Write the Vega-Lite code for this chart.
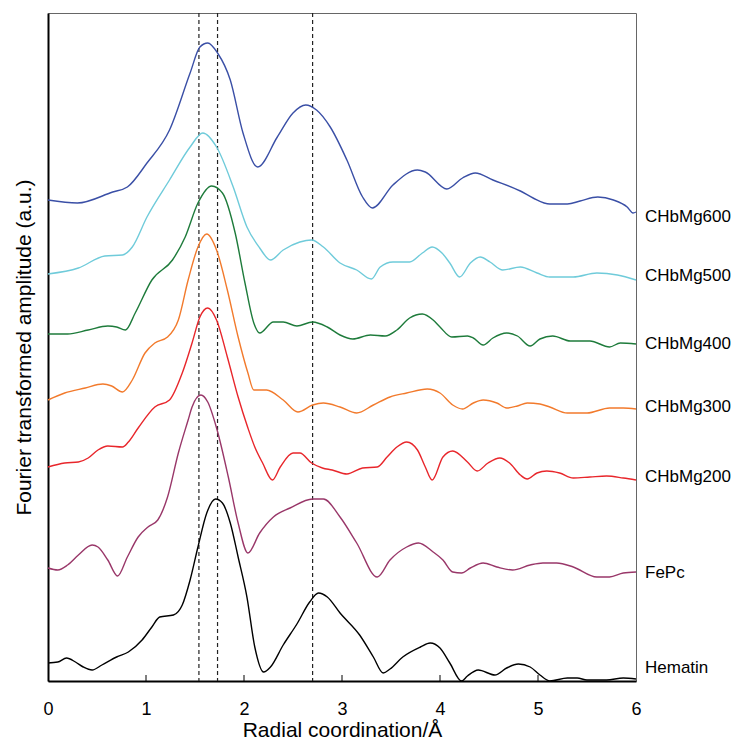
{
  "$schema": "https://vega.github.io/schema/vega-lite/v6.json",
  "width": 588,
  "height": 668,
  "autosize": {"type": "none"},
  "padding": {"left": 48, "top": 13, "right": 98, "bottom": 59},
  "background": "white",
  "config": {
    "view": {"stroke": "#666666", "strokeWidth": 1},
    "font": "Liberation Sans",
    "axis": {"labelFont": "Liberation Sans", "titleFont": "Liberation Sans", "grid": false}
  },
  "datasets": {
    "curves": [
      {"s":"CHbMg600","x":0.00,"y":481},{"s":"CHbMg600","x":0.30,"y":478},{"s":"CHbMg600","x":0.66,"y":489},{"s":"CHbMg600","x":0.81,"y":494},{"s":"CHbMg600","x":1.01,"y":518},{"s":"CHbMg600","x":1.24,"y":551},{"s":"CHbMg600","x":1.45,"y":608},{"s":"CHbMg600","x":1.55,"y":634},{"s":"CHbMg600","x":1.63,"y":638},{"s":"CHbMg600","x":1.73,"y":628},{"s":"CHbMg600","x":1.86,"y":601},{"s":"CHbMg600","x":1.99,"y":548},{"s":"CHbMg600","x":2.14,"y":514},{"s":"CHbMg600","x":2.34,"y":544},{"s":"CHbMg600","x":2.50,"y":568},{"s":"CHbMg600","x":2.63,"y":576},{"s":"CHbMg600","x":2.74,"y":571},{"s":"CHbMg600","x":2.88,"y":554},{"s":"CHbMg600","x":3.05,"y":521},{"s":"CHbMg600","x":3.21,"y":484},{"s":"CHbMg600","x":3.31,"y":473},{"s":"CHbMg600","x":3.52,"y":496},{"s":"CHbMg600","x":3.77,"y":511},{"s":"CHbMg600","x":3.85,"y":509},{"s":"CHbMg600","x":4.07,"y":492},{"s":"CHbMg600","x":4.23,"y":503},{"s":"CHbMg600","x":4.36,"y":508},{"s":"CHbMg600","x":4.54,"y":501},{"s":"CHbMg600","x":4.82,"y":490},{"s":"CHbMg600","x":4.95,"y":483},{"s":"CHbMg600","x":5.12,"y":477},{"s":"CHbMg600","x":5.30,"y":477},{"s":"CHbMg600","x":5.43,"y":480},{"s":"CHbMg600","x":5.61,"y":484},{"s":"CHbMg600","x":5.77,"y":481},{"s":"CHbMg600","x":5.91,"y":474},{"s":"CHbMg600","x":5.97,"y":468},{"s":"CHbMg600","x":6.00,"y":469},
      {"s":"CHbMg500","x":0.00,"y":407},{"s":"CHbMg500","x":0.31,"y":413},{"s":"CHbMg500","x":0.58,"y":425},{"s":"CHbMg500","x":0.76,"y":426},{"s":"CHbMg500","x":0.86,"y":434},{"s":"CHbMg500","x":1.01,"y":464},{"s":"CHbMg500","x":1.24,"y":501},{"s":"CHbMg500","x":1.45,"y":534},{"s":"CHbMg500","x":1.58,"y":548},{"s":"CHbMg500","x":1.72,"y":534},{"s":"CHbMg500","x":1.89,"y":494},{"s":"CHbMg500","x":2.03,"y":454},{"s":"CHbMg500","x":2.16,"y":433},{"s":"CHbMg500","x":2.27,"y":421},{"s":"CHbMg500","x":2.40,"y":431},{"s":"CHbMg500","x":2.57,"y":439},{"s":"CHbMg500","x":2.69,"y":441},{"s":"CHbMg500","x":2.81,"y":434},{"s":"CHbMg500","x":2.98,"y":418},{"s":"CHbMg500","x":3.15,"y":411},{"s":"CHbMg500","x":3.30,"y":402},{"s":"CHbMg500","x":3.39,"y":414},{"s":"CHbMg500","x":3.52,"y":419},{"s":"CHbMg500","x":3.69,"y":419},{"s":"CHbMg500","x":3.82,"y":428},{"s":"CHbMg500","x":3.92,"y":434},{"s":"CHbMg500","x":4.02,"y":428},{"s":"CHbMg500","x":4.10,"y":418},{"s":"CHbMg500","x":4.20,"y":404},{"s":"CHbMg500","x":4.31,"y":418},{"s":"CHbMg500","x":4.41,"y":424},{"s":"CHbMg500","x":4.51,"y":419},{"s":"CHbMg500","x":4.64,"y":411},{"s":"CHbMg500","x":4.82,"y":414},{"s":"CHbMg500","x":4.99,"y":408},{"s":"CHbMg500","x":5.12,"y":404},{"s":"CHbMg500","x":5.36,"y":404},{"s":"CHbMg500","x":5.60,"y":408},{"s":"CHbMg500","x":5.81,"y":406},{"s":"CHbMg500","x":6.00,"y":401},
      {"s":"CHbMg400","x":0.00,"y":347},{"s":"CHbMg400","x":0.20,"y":347},{"s":"CHbMg400","x":0.41,"y":351},{"s":"CHbMg400","x":0.61,"y":355},{"s":"CHbMg400","x":0.70,"y":354},{"s":"CHbMg400","x":0.79,"y":351},{"s":"CHbMg400","x":0.89,"y":368},{"s":"CHbMg400","x":1.06,"y":401},{"s":"CHbMg400","x":1.27,"y":421},{"s":"CHbMg400","x":1.40,"y":444},{"s":"CHbMg400","x":1.53,"y":478},{"s":"CHbMg400","x":1.67,"y":495},{"s":"CHbMg400","x":1.78,"y":488},{"s":"CHbMg400","x":1.91,"y":448},{"s":"CHbMg400","x":2.01,"y":398},{"s":"CHbMg400","x":2.10,"y":358},{"s":"CHbMg400","x":2.16,"y":348},{"s":"CHbMg400","x":2.30,"y":359},{"s":"CHbMg400","x":2.40,"y":359},{"s":"CHbMg400","x":2.54,"y":355},{"s":"CHbMg400","x":2.70,"y":359},{"s":"CHbMg400","x":2.85,"y":354},{"s":"CHbMg400","x":2.98,"y":346},{"s":"CHbMg400","x":3.11,"y":342},{"s":"CHbMg400","x":3.29,"y":346},{"s":"CHbMg400","x":3.44,"y":345},{"s":"CHbMg400","x":3.56,"y":351},{"s":"CHbMg400","x":3.69,"y":363},{"s":"CHbMg400","x":3.82,"y":367},{"s":"CHbMg400","x":3.93,"y":361},{"s":"CHbMg400","x":4.00,"y":354},{"s":"CHbMg400","x":4.12,"y":344},{"s":"CHbMg400","x":4.28,"y":345},{"s":"CHbMg400","x":4.34,"y":343},{"s":"CHbMg400","x":4.44,"y":336},{"s":"CHbMg400","x":4.54,"y":343},{"s":"CHbMg400","x":4.68,"y":348},{"s":"CHbMg400","x":4.79,"y":345},{"s":"CHbMg400","x":4.92,"y":335},{"s":"CHbMg400","x":5.02,"y":342},{"s":"CHbMg400","x":5.15,"y":345},{"s":"CHbMg400","x":5.33,"y":340},{"s":"CHbMg400","x":5.53,"y":340},{"s":"CHbMg400","x":5.73,"y":334},{"s":"CHbMg400","x":5.84,"y":338},{"s":"CHbMg400","x":6.00,"y":337},
      {"s":"CHbMg300","x":0.00,"y":281},{"s":"CHbMg300","x":0.17,"y":288},{"s":"CHbMg300","x":0.38,"y":293},{"s":"CHbMg300","x":0.56,"y":297},{"s":"CHbMg300","x":0.65,"y":295},{"s":"CHbMg300","x":0.76,"y":289},{"s":"CHbMg300","x":0.86,"y":301},{"s":"CHbMg300","x":0.99,"y":328},{"s":"CHbMg300","x":1.09,"y":338},{"s":"CHbMg300","x":1.22,"y":344},{"s":"CHbMg300","x":1.33,"y":361},{"s":"CHbMg300","x":1.43,"y":401},{"s":"CHbMg300","x":1.53,"y":434},{"s":"CHbMg300","x":1.62,"y":447},{"s":"CHbMg300","x":1.72,"y":431},{"s":"CHbMg300","x":1.83,"y":391},{"s":"CHbMg300","x":1.94,"y":344},{"s":"CHbMg300","x":2.04,"y":308},{"s":"CHbMg300","x":2.10,"y":291},{"s":"CHbMg300","x":2.23,"y":291},{"s":"CHbMg300","x":2.40,"y":281},{"s":"CHbMg300","x":2.55,"y":269},{"s":"CHbMg300","x":2.70,"y":276},{"s":"CHbMg300","x":2.81,"y":278},{"s":"CHbMg300","x":2.98,"y":274},{"s":"CHbMg300","x":3.15,"y":268},{"s":"CHbMg300","x":3.32,"y":276},{"s":"CHbMg300","x":3.49,"y":284},{"s":"CHbMg300","x":3.66,"y":288},{"s":"CHbMg300","x":3.87,"y":292},{"s":"CHbMg300","x":4.00,"y":288},{"s":"CHbMg300","x":4.13,"y":276},{"s":"CHbMg300","x":4.23,"y":272},{"s":"CHbMg300","x":4.34,"y":278},{"s":"CHbMg300","x":4.44,"y":281},{"s":"CHbMg300","x":4.58,"y":278},{"s":"CHbMg300","x":4.68,"y":273},{"s":"CHbMg300","x":4.79,"y":275},{"s":"CHbMg300","x":4.89,"y":278},{"s":"CHbMg300","x":5.02,"y":277},{"s":"CHbMg300","x":5.12,"y":274},{"s":"CHbMg300","x":5.30,"y":268},{"s":"CHbMg300","x":5.50,"y":268},{"s":"CHbMg300","x":5.73,"y":273},{"s":"CHbMg300","x":5.87,"y":273},{"s":"CHbMg300","x":6.00,"y":272},
      {"s":"CHbMg200","x":0.00,"y":214},{"s":"CHbMg200","x":0.17,"y":218},{"s":"CHbMg200","x":0.31,"y":219},{"s":"CHbMg200","x":0.41,"y":223},{"s":"CHbMg200","x":0.51,"y":231},{"s":"CHbMg200","x":0.61,"y":235},{"s":"CHbMg200","x":0.76,"y":234},{"s":"CHbMg200","x":0.82,"y":239},{"s":"CHbMg200","x":0.92,"y":253},{"s":"CHbMg200","x":1.09,"y":274},{"s":"CHbMg200","x":1.24,"y":281},{"s":"CHbMg200","x":1.37,"y":308},{"s":"CHbMg200","x":1.47,"y":338},{"s":"CHbMg200","x":1.55,"y":364},{"s":"CHbMg200","x":1.63,"y":373},{"s":"CHbMg200","x":1.72,"y":361},{"s":"CHbMg200","x":1.83,"y":324},{"s":"CHbMg200","x":1.94,"y":284},{"s":"CHbMg200","x":2.04,"y":253},{"s":"CHbMg200","x":2.11,"y":234},{"s":"CHbMg200","x":2.19,"y":218},{"s":"CHbMg200","x":2.29,"y":201},{"s":"CHbMg200","x":2.37,"y":214},{"s":"CHbMg200","x":2.50,"y":228},{"s":"CHbMg200","x":2.57,"y":228},{"s":"CHbMg200","x":2.69,"y":218},{"s":"CHbMg200","x":2.80,"y":213},{"s":"CHbMg200","x":2.90,"y":211},{"s":"CHbMg200","x":3.05,"y":207},{"s":"CHbMg200","x":3.21,"y":213},{"s":"CHbMg200","x":3.36,"y":214},{"s":"CHbMg200","x":3.46,"y":224},{"s":"CHbMg200","x":3.56,"y":234},{"s":"CHbMg200","x":3.66,"y":239},{"s":"CHbMg200","x":3.77,"y":231},{"s":"CHbMg200","x":3.85,"y":214},{"s":"CHbMg200","x":3.92,"y":201},{"s":"CHbMg200","x":4.03,"y":224},{"s":"CHbMg200","x":4.13,"y":230},{"s":"CHbMg200","x":4.28,"y":219},{"s":"CHbMg200","x":4.38,"y":210},{"s":"CHbMg200","x":4.49,"y":218},{"s":"CHbMg200","x":4.61,"y":223},{"s":"CHbMg200","x":4.71,"y":218},{"s":"CHbMg200","x":4.82,"y":206},{"s":"CHbMg200","x":4.89,"y":202},{"s":"CHbMg200","x":4.99,"y":208},{"s":"CHbMg200","x":5.09,"y":210},{"s":"CHbMg200","x":5.22,"y":208},{"s":"CHbMg200","x":5.36,"y":203},{"s":"CHbMg200","x":5.53,"y":204},{"s":"CHbMg200","x":5.70,"y":205},{"s":"CHbMg200","x":5.87,"y":203},{"s":"CHbMg200","x":6.00,"y":201},
      {"s":"FePc","x":0.00,"y":113},{"s":"FePc","x":0.10,"y":111},{"s":"FePc","x":0.20,"y":116},{"s":"FePc","x":0.31,"y":126},{"s":"FePc","x":0.45,"y":136},{"s":"FePc","x":0.51,"y":134},{"s":"FePc","x":0.61,"y":121},{"s":"FePc","x":0.71,"y":105},{"s":"FePc","x":0.81,"y":124},{"s":"FePc","x":0.92,"y":144},{"s":"FePc","x":1.02,"y":154},{"s":"FePc","x":1.12,"y":161},{"s":"FePc","x":1.22,"y":184},{"s":"FePc","x":1.33,"y":228},{"s":"FePc","x":1.43,"y":261},{"s":"FePc","x":1.47,"y":274},{"s":"FePc","x":1.56,"y":286},{"s":"FePc","x":1.63,"y":279},{"s":"FePc","x":1.72,"y":253},{"s":"FePc","x":1.84,"y":204},{"s":"FePc","x":1.94,"y":158},{"s":"FePc","x":2.04,"y":128},{"s":"FePc","x":2.16,"y":148},{"s":"FePc","x":2.30,"y":164},{"s":"FePc","x":2.47,"y":173},{"s":"FePc","x":2.70,"y":182},{"s":"FePc","x":2.81,"y":182},{"s":"FePc","x":2.98,"y":164},{"s":"FePc","x":3.15,"y":138},{"s":"FePc","x":3.36,"y":104},{"s":"FePc","x":3.49,"y":121},{"s":"FePc","x":3.66,"y":134},{"s":"FePc","x":3.78,"y":138},{"s":"FePc","x":3.93,"y":129},{"s":"FePc","x":4.03,"y":121},{"s":"FePc","x":4.13,"y":109},{"s":"FePc","x":4.22,"y":108},{"s":"FePc","x":4.31,"y":113},{"s":"FePc","x":4.44,"y":118},{"s":"FePc","x":4.58,"y":114},{"s":"FePc","x":4.74,"y":111},{"s":"FePc","x":4.92,"y":116},{"s":"FePc","x":5.05,"y":118},{"s":"FePc","x":5.19,"y":118},{"s":"FePc","x":5.36,"y":114},{"s":"FePc","x":5.60,"y":104},{"s":"FePc","x":5.73,"y":104},{"s":"FePc","x":5.87,"y":108},{"s":"FePc","x":6.00,"y":109},
      {"s":"Hematin","x":0.00,"y":18},{"s":"Hematin","x":0.10,"y":19},{"s":"Hematin","x":0.19,"y":23},{"s":"Hematin","x":0.28,"y":19},{"s":"Hematin","x":0.36,"y":14},{"s":"Hematin","x":0.45,"y":11},{"s":"Hematin","x":0.55,"y":16},{"s":"Hematin","x":0.70,"y":24},{"s":"Hematin","x":0.82,"y":29},{"s":"Hematin","x":0.96,"y":41},{"s":"Hematin","x":1.06,"y":54},{"s":"Hematin","x":1.14,"y":64},{"s":"Hematin","x":1.28,"y":66},{"s":"Hematin","x":1.37,"y":76},{"s":"Hematin","x":1.45,"y":101},{"s":"Hematin","x":1.53,"y":134},{"s":"Hematin","x":1.62,"y":168},{"s":"Hematin","x":1.71,"y":182},{"s":"Hematin","x":1.78,"y":178},{"s":"Hematin","x":1.86,"y":158},{"s":"Hematin","x":1.94,"y":124},{"s":"Hematin","x":2.03,"y":84},{"s":"Hematin","x":2.11,"y":34},{"s":"Hematin","x":2.20,"y":9},{"s":"Hematin","x":2.27,"y":14},{"s":"Hematin","x":2.40,"y":36},{"s":"Hematin","x":2.54,"y":57},{"s":"Hematin","x":2.67,"y":79},{"s":"Hematin","x":2.76,"y":88},{"s":"Hematin","x":2.85,"y":84},{"s":"Hematin","x":2.98,"y":68},{"s":"Hematin","x":3.18,"y":46},{"s":"Hematin","x":3.32,"y":24},{"s":"Hematin","x":3.42,"y":8},{"s":"Hematin","x":3.49,"y":12},{"s":"Hematin","x":3.62,"y":24},{"s":"Hematin","x":3.80,"y":34},{"s":"Hematin","x":3.90,"y":38},{"s":"Hematin","x":4.00,"y":33},{"s":"Hematin","x":4.10,"y":18},{"s":"Hematin","x":4.22,"y":0},{"s":"Hematin","x":4.28,"y":5},{"s":"Hematin","x":4.39,"y":11},{"s":"Hematin","x":4.56,"y":6},{"s":"Hematin","x":4.68,"y":13},{"s":"Hematin","x":4.80,"y":17},{"s":"Hematin","x":4.92,"y":14},{"s":"Hematin","x":5.02,"y":6},{"s":"Hematin","x":5.12,"y":0},{"s":"Hematin","x":5.30,"y":3},{"s":"Hematin","x":5.40,"y":3},{"s":"Hematin","x":5.50,"y":1},{"s":"Hematin","x":5.70,"y":1},{"s":"Hematin","x":5.87,"y":3},{"s":"Hematin","x":6.00,"y":2}
    ],
    "refs": [{"r":1.54},{"r":1.73},{"r":2.70}],
    "ticks": [{"t":1},{"t":2},{"t":3},{"t":4},{"t":5}],
    "labels": [
      {"s":"CHbMg600","y":464},{"s":"CHbMg500","y":405},{"s":"CHbMg400","y":337},{"s":"CHbMg300","y":274},{"s":"CHbMg200","y":204},{"s":"FePc","y":108},{"s":"Hematin","y":13}
    ]
  },
  "layer": [
    {
      "data": {"name": "refs"},
      "mark": {"type": "rule", "color": "#222222", "strokeWidth": 1.2, "strokeDash": [4, 3]},
      "encoding": {
        "x": {"field": "r", "type": "quantitative", "scale": {"domain": [0, 6]}}
      }
    },
    {
      "data": {"name": "ticks"},
      "mark": {"type": "rule", "color": "#000000", "strokeWidth": 1},
      "encoding": {
        "x": {"field": "t", "type": "quantitative"},
        "y": {"datum": 0, "type": "quantitative"},
        "y2": {"datum": 6}
      }
    },
    {
      "data": {"name": "curves"},
      "mark": {"type": "line", "strokeWidth": 1.4, "interpolate": "monotone"},
      "encoding": {
        "x": {"field": "x", "type": "quantitative", "scale": {"domain": [0, 6], "nice": false},
          "axis": {"title": "Radial coordination/Å", "values": [0,1,2,3,4,5,6], "format": "d", "ticks": false, "labelPadding": 19, "labelFontSize": 18, "labelColor": "#000000", "titleFontSize": 21, "titleFontWeight": "normal", "titleColor": "#000000", "titlePadding": 1, "domainColor": "#000000", "domainWidth": 2, "labelFlush": false}},
        "y": {"field": "y", "type": "quantitative", "scale": {"domain": [0, 668], "nice": false},
          "axis": {"title": "Fourier transformed amplitude (a.u.)", "labels": false, "ticks": false, "titleFontSize": 21, "titleFontWeight": "normal", "titleColor": "#000000", "titlePadding": 14, "domainColor": "#000000", "domainWidth": 2}},
        "color": {"field": "s", "type": "nominal", "legend": null,
          "scale": {"domain": ["CHbMg600","CHbMg500","CHbMg400","CHbMg300","CHbMg200","FePc","Hematin"],
                    "range": ["#3A4FA6","#6FCBDA","#1E7B3B","#F27A2C","#E8262B","#993769","#000000"]}},
        "detail": {"field": "s"}
      }
    },
    {
      "data": {"name": "labels"},
      "mark": {"type": "text", "align": "left", "baseline": "middle", "dx": 9, "fontSize": 17, "font": "Liberation Sans", "color": "#000000"},
      "encoding": {
        "x": {"datum": 6, "type": "quantitative"},
        "y": {"field": "y", "type": "quantitative"},
        "text": {"field": "s"}
      }
    }
  ]
}
